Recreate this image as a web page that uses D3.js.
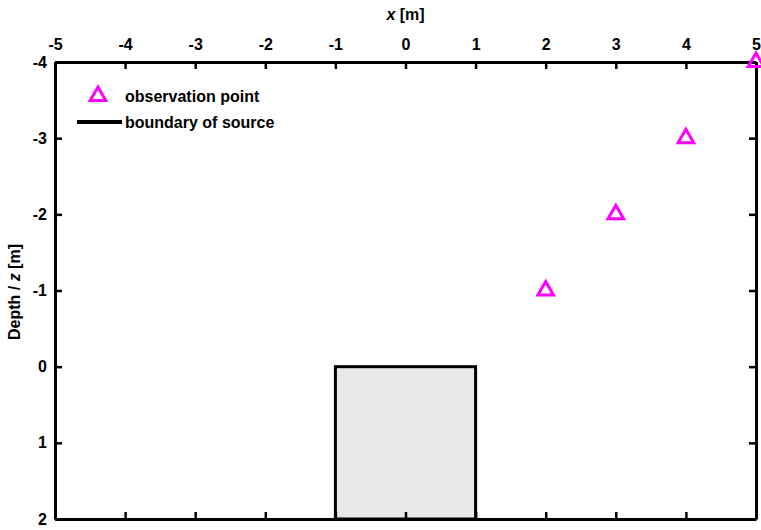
<!DOCTYPE html>
<html>
<head>
<meta charset="utf-8">
<script src="https://cdn.jsdelivr.net/npm/d3@7"></script>
<style>
  body { margin: 0; background: #fff; }
  svg text { font-family: "Liberation Sans", Arial, sans-serif; font-weight: bold; }
</style>
</head>
<body>
<div id="chart"></div>
<script>
const width = 761;
const height = 530;
const margin = { top: 62, right: 4, bottom: 11, left: 55 };

const xTicks = [-5, -4, -3, -2, -1, 0, 1, 2, 3, 4, 5];
const zTicks = [-4, -3, -2, -1, 0, 1, 2];

const obsX = [2, 3, 4, 5];
const obsZ = [-1, -2, -3, -4];

const sourceX = [-1, 1];
const sourceZ = [0, 2];

buildChart();

function buildChart() {

    const svg = d3.select('#chart')
        .append('svg')
        .attr('width', width)
        .attr('height', height);

    const x = d3.scaleLinear()
        .domain([-5, 5])
        .range([margin.left, width - margin.right - 1]);

    const y = d3.scaleLinear()
        .domain([-4, 2])
        .range([margin.top, height - margin.bottom]);

    const fmt = (d) => String(d);

    // source block
    svg.append('rect')
        .attr('x', x(sourceX[0]))
        .attr('y', y(sourceZ[0]))
        .attr('width', x(sourceX[1]) - x(sourceX[0]))
        .attr('height', y(sourceZ[1]) - y(sourceZ[0]))
        .attr('fill', '#e8e8e8')
        .attr('stroke', '#000')
        .attr('stroke-width', 3);

    // axes with inward ticks
    const tickLen = 7;

    const top = svg.append('g')
        .attr('transform', `translate(0, ${y(-4)})`)
        .call(d3.axisTop(x).tickValues(xTicks).tickSizeInner(-tickLen).tickSizeOuter(0).tickPadding(12).tickFormat(fmt));

    const bottom = svg.append('g')
        .attr('transform', `translate(0, ${y(2)})`)
        .call(d3.axisBottom(x).tickValues(xTicks).tickSizeInner(-tickLen).tickSizeOuter(0).tickFormat(''));

    const left = svg.append('g')
        .attr('transform', `translate(${x(-5)}, 0)`)
        .call(d3.axisLeft(y).tickValues(zTicks).tickSizeInner(-tickLen).tickSizeOuter(0).tickPadding(8).tickFormat(fmt));

    const right = svg.append('g')
        .attr('transform', `translate(${x(5)}, 0)`)
        .call(d3.axisRight(y).tickValues(zTicks).tickSizeInner(-tickLen).tickSizeOuter(0).tickFormat(''));

    [top, bottom, left, right].forEach((g) => {
        g.select('.domain').attr('stroke', '#000').attr('stroke-width', 3);
        g.selectAll('.tick line').attr('stroke', '#000').attr('stroke-width', 2.5);
        g.selectAll('.tick text')
            .attr('font-size', 16)
            .attr('fill', '#000')
            .attr('font-family', '"Liberation Sans", Arial, sans-serif')
            .attr('font-weight', 'bold');
    });

    // axis titles
    const xt = svg.append('text')
        .attr('x', x(0))
        .attr('y', 20)
        .attr('text-anchor', 'middle')
        .attr('font-size', 16);
    xt.append('tspan').attr('font-style', 'italic').text('x');
    xt.append('tspan').text(' [m]');

    const yt = svg.append('text')
        .attr('transform', `translate(20, 292) rotate(-90)`)
        .attr('text-anchor', 'middle')
        .attr('font-size', 16);
    yt.append('tspan').text('Depth / ');
    yt.append('tspan').attr('font-style', 'italic').text('z');
    yt.append('tspan').text(' [m]');

    // observation points
    const tri = d3.symbol().type(d3.symbolTriangle).size(105);

    svg.selectAll('.obs')
        .data(obsX.map((d, i) => [d, obsZ[i]]))
        .enter()
        .append('path')
        .attr('class', 'obs')
        .attr('d', tri)
        .attr('transform', (d) => `translate(${x(d[0])}, ${y(d[1])})`)
        .attr('fill', 'none')
        .attr('stroke', '#ff00ff')
        .attr('stroke-width', 3);

    // legend
    const legend = svg.append('g');

    legend.append('path')
        .attr('d', tri)
        .attr('transform', 'translate(98, 96)')
        .attr('fill', 'none')
        .attr('stroke', '#ff00ff')
        .attr('stroke-width', 3);

    legend.append('text')
        .attr('x', 125)
        .attr('y', 102)
        .attr('font-size', 16)
        .text('observation point');

    legend.append('line')
        .attr('x1', 77)
        .attr('x2', 122)
        .attr('y1', 122)
        .attr('y2', 122)
        .attr('stroke', '#000')
        .attr('stroke-width', 4);

    legend.append('text')
        .attr('x', 125)
        .attr('y', 128)
        .attr('font-size', 16)
        .text('boundary of source');
}
</script>
</body>
</html>
